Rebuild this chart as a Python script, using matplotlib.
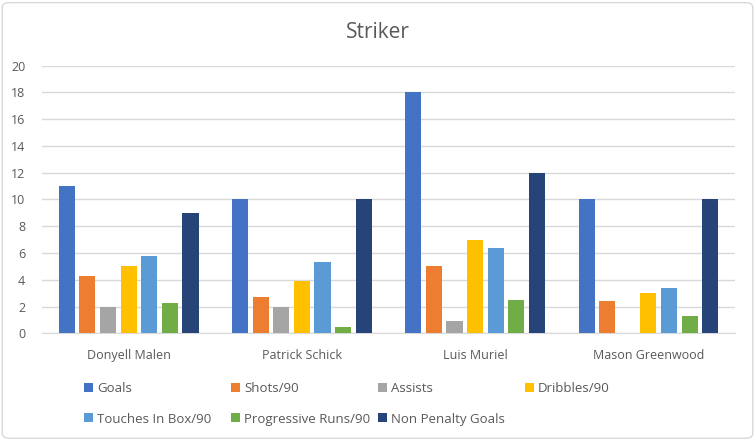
import matplotlib
matplotlib.use("Agg")
import matplotlib.pyplot as plt
from matplotlib.patches import FancyBboxPatch, Patch
import numpy as np

players = ["Donyell Malen", "Patrick Schick", "Luis Muriel", "Mason Greenwood"]
series_names = ["Goals", "Shots/90", "Assists", "Dribbles/90",
                "Touches In Box/90", "Progressive Runs/90", "Non Penalty Goals"]
goals = [11, 10, 18, 10]
shots90 = [4.3, 2.7, 5.05, 2.4]
assists = [2, 2, 0.9, 0]
dribbles90 = [5, 3.9, 7, 3]
touches90 = [5.75, 5.3, 6.35, 3.4]
progruns90 = [2.3, 0.5, 2.5, 1.3]
npgoals = [9, 10, 12, 10]
series = [goals, shots90, assists, dribbles90, touches90, progruns90, npgoals]
colors = ["#4472C4", "#ED7D31", "#A5A5A5", "#FFC000", "#5B9BD5", "#70AD47", "#264478"]

plt.rcParams['font.family'] = ['Open Sans', 'DejaVu Sans']
txt = "#595959"

fig = plt.figure(figsize=(7.55, 4.4), dpi=100)
border = FancyBboxPatch((0.003, 0.004), 0.994, 0.99, boxstyle="round,pad=0,rounding_size=0.01",
                        transform=fig.transFigure, facecolor="none", edgecolor="#D9D9D9", lw=1)
fig.patches.append(border)

ax = fig.add_axes([0.0556, 0.2425, 0.918, 0.6082])
x = np.arange(len(players))
pitch = 0.119
width = 0.093
for j, (vals, c) in enumerate(zip(series, colors)):
    ax.bar(x + (j - 3) * pitch, vals, width, color=c, zorder=3, label=series_names[j])

ax.set_xlim(-0.5, 3.5)
ax.set_ylim(0, 20)
ax.set_yticks(range(0, 21, 2))
ax.yaxis.grid(True, color="#D9D9D9", lw=1, zorder=0)
ax.set_axisbelow(True)
for s in ["top", "right", "left"]:
    ax.spines[s].set_visible(False)
ax.spines["bottom"].set_color("#D9D9D9")
ax.tick_params(axis="both", length=0, colors=txt, labelsize=9)
ax.tick_params(axis="y", pad=12)
ax.tick_params(axis="x", pad=11)
ax.set_xticks(x)
ax.set_xticklabels(players)

fig.text(0.5, 1 - 32 / 440, "Striker", ha="center", va="center", fontsize=15, color=txt)

# legend: Excel-like fixed column grid, 4 columns x 2 rows
for k, name in enumerate(series_names):
    col, row = k % 4, k // 4
    lx = (84 + 147 * col) / 755
    ly = 1 - (389 + 30 * row) / 440
    leg = fig.legend([Patch(facecolor=colors[k])], [name], loc="center left",
                     bbox_to_anchor=(lx, ly), frameon=False, fontsize=9.5,
                     handlelength=0.65, handleheight=0.65, handletextpad=0.35,
                     borderaxespad=0, borderpad=0)
    for t in leg.get_texts():
        t.set_color(txt)

fig.savefig("out.png", dpi=100)
